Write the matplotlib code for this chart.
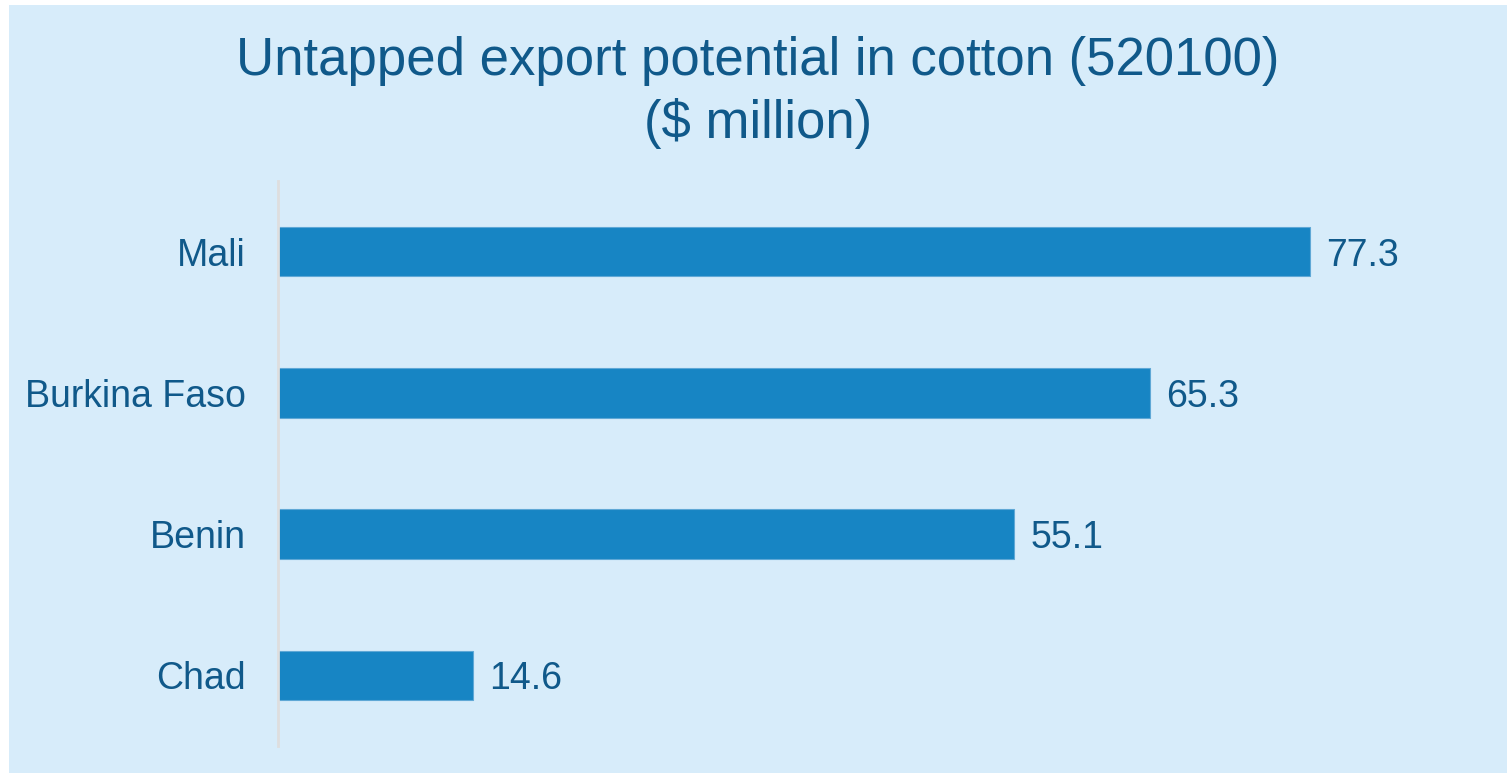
import matplotlib.pyplot as plt
from matplotlib.patches import Rectangle

countries = ["Mali", "Burkina Faso", "Benin", "Chad"]
values = [77.3, 65.3, 55.1, 14.6]
title = "Untapped export potential in cotton (520100)\n($ million)"

bg = "#d7ecfa"
bar_color = "#1785c4"
text_color = "#10598a"

plt.rcParams["font.family"] = ["Liberation Sans", "DejaVu Sans"]

W, H = 1507, 773
fig = plt.figure(figsize=(W / 100, H / 100), dpi=100)
fig.patch.set_facecolor("white")
# light blue panel, small white margin at top/left like the original
fig.patches.append(Rectangle((9 / W, 0), 1 - 9 / W, 1 - 5 / H,
                             transform=fig.transFigure, facecolor=bg,
                             edgecolor="none", zorder=-10))

ax = fig.add_axes([278 / W, 27 / H, (1490 - 278) / W, (746 - 181) / H])
ax.set_facecolor("none")

y = list(range(len(countries)))
ax.barh(y, values, height=0.35, color=bar_color, edgecolor="#5fa8d6", linewidth=0.8)
ax.set_ylim(len(countries) - 0.5, -0.5)
ax.set_xlim(0, (1490 - 278) / 13.35)

for yi, v in zip(y, values):
    ax.annotate(f"{v:.1f}", (v, yi), xytext=(12, 0), textcoords="offset points",
                va="center_baseline", ha="left", fontsize=27, color=text_color)

ax.set_yticks(y)
ax.set_yticklabels(countries, fontsize=27, color=text_color)
ax.tick_params(axis="y", length=0, pad=23)
ax.set_xticks([])
for s in ["top", "right", "bottom"]:
    ax.spines[s].set_visible(False)
ax.spines["left"].set_color("#dedede")
ax.spines["left"].set_linewidth(2)

fig.text(758 / W, 1 - 36 / H, title, ha="center", va="top", fontsize=38,
         color=text_color, linespacing=1.3)

fig.savefig("out.png", dpi=100, facecolor=fig.get_facecolor())
